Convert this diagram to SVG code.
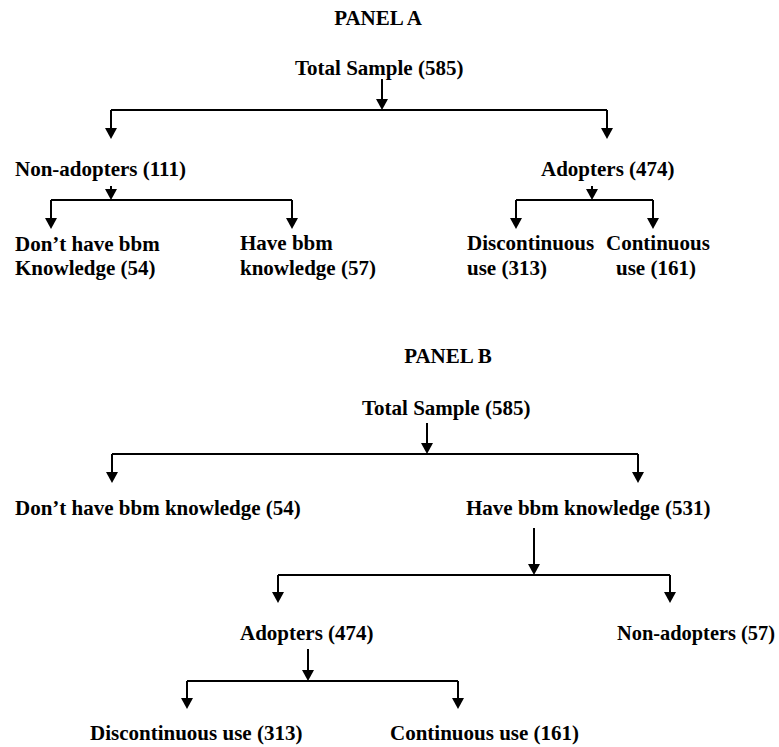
<svg xmlns="http://www.w3.org/2000/svg" width="779" height="747" viewBox="0 0 779 747">
<style>
text{font-family:"Liberation Serif","Times New Roman",serif;font-weight:bold;font-size:21px;fill:#000}
.c{fill:none;stroke:#000;stroke-width:2}
.mid{text-anchor:middle}
</style>
<defs>
<marker id="ah" markerUnits="userSpaceOnUse" markerWidth="12" markerHeight="12" viewBox="0 0 12 12" refX="7" refY="6" orient="auto">
<path d="M0,0 L11,6 L0,12 z" fill="#000"/>
</marker>
</defs>
<rect width="779" height="747" fill="#fff"/>
<g id="connectors">
<!-- Panel A -->
<line class="c" x1="382" y1="79" x2="382" y2="106" marker-end="url(#ah)"/>
<line class="c" x1="111" y1="110" x2="607" y2="110"/>
<line class="c" x1="111" y1="110" x2="111" y2="135" marker-end="url(#ah)"/>
<line class="c" x1="607" y1="110" x2="607" y2="135" marker-end="url(#ah)"/>
<line class="c" x1="111" y1="186" x2="111" y2="196" marker-end="url(#ah)"/>
<line class="c" x1="51" y1="200" x2="292" y2="200"/>
<line class="c" x1="51" y1="200" x2="51" y2="225" marker-end="url(#ah)"/>
<line class="c" x1="292" y1="200" x2="292" y2="225" marker-end="url(#ah)"/>
<line class="c" x1="592" y1="186" x2="592" y2="196" marker-end="url(#ah)"/>
<line class="c" x1="516" y1="200" x2="653" y2="200"/>
<line class="c" x1="516" y1="200" x2="516" y2="225" marker-end="url(#ah)"/>
<line class="c" x1="653" y1="200" x2="653" y2="225" marker-end="url(#ah)"/>
<!-- Panel B -->
<line class="c" x1="427" y1="423" x2="427" y2="450" marker-end="url(#ah)"/>
<line class="c" x1="112" y1="454" x2="638" y2="454"/>
<line class="c" x1="112" y1="454" x2="112" y2="479" marker-end="url(#ah)"/>
<line class="c" x1="638" y1="454" x2="638" y2="479" marker-end="url(#ah)"/>
<line class="c" x1="534" y1="528" x2="534" y2="571" marker-end="url(#ah)"/>
<line class="c" x1="278" y1="575" x2="670" y2="575"/>
<line class="c" x1="278" y1="575" x2="278" y2="599" marker-end="url(#ah)"/>
<line class="c" x1="670" y1="575" x2="670" y2="599" marker-end="url(#ah)"/>
<line class="c" x1="308" y1="649" x2="308" y2="677" marker-end="url(#ah)"/>
<line class="c" x1="187" y1="681" x2="458" y2="681"/>
<line class="c" x1="187" y1="681" x2="187" y2="705" marker-end="url(#ah)"/>
<line class="c" x1="458" y1="681" x2="458" y2="705" marker-end="url(#ah)"/>
</g>
<g id="panelA-title"><text class="mid" x="378" y="25">PANEL A</text></g>
<g id="a-total"><text x="295" y="75">Total Sample (585)</text></g>
<g id="a-nonadopters"><text x="15" y="176">Non-adopters (111)</text></g>
<g id="a-adopters"><text x="541" y="176">Adopters (474)</text></g>
<g id="a-dont-have"><text x="15" y="251">Don’t have bbm</text><text x="15" y="275">Knowledge (54)</text></g>
<g id="a-have"><text x="240" y="250">Have bbm</text><text x="240" y="275">knowledge (57)</text></g>
<g id="a-discontinuous"><text x="467" y="250">Discontinuous</text><text x="467" y="275">use (313)</text></g>
<g id="a-continuous"><text x="606" y="250">Continuous</text><text x="616" y="275">use (161)</text></g>
<g id="panelB-title"><text class="mid" x="448" y="363">PANEL B</text></g>
<g id="b-total"><text x="362" y="415">Total Sample (585)</text></g>
<g id="b-dont-have"><text x="15" y="515">Don’t have bbm knowledge (54)</text></g>
<g id="b-have"><text x="466" y="515">Have bbm knowledge (531)</text></g>
<g id="b-adopters"><text x="240" y="640">Adopters (474)</text></g>
<g id="b-nonadopters"><text x="617" y="640" textLength="158" lengthAdjust="spacingAndGlyphs">Non-adopters (57)</text></g>
<g id="b-discontinuous"><text x="90" y="740">Discontinuous use (313)</text></g>
<g id="b-continuous"><text x="390" y="740">Continuous use (161)</text></g>
</svg>
